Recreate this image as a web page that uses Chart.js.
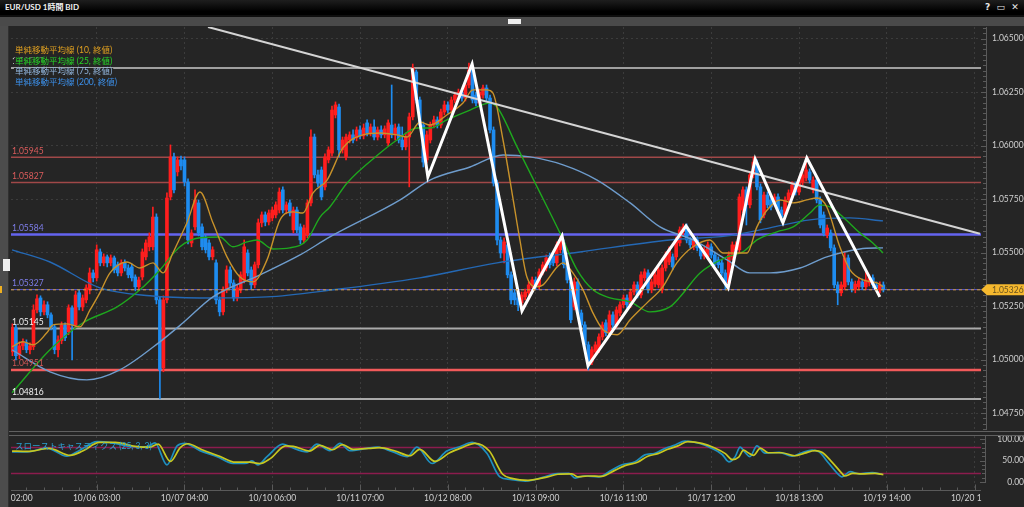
<!DOCTYPE html>
<html><head><meta charset="utf-8">
<script src="https://cdn.jsdelivr.net/npm/chart.js@4.4.1/dist/chart.umd.min.js"></script>
<style>
html,body{margin:0;padding:0;background:#252525;width:1024px;height:507px;overflow:hidden;}
.a{position:absolute;}
#tb{left:0;top:0;width:1024px;height:15px;background:linear-gradient(#1e1e1e,#000 75%);}
#tt{left:5px;top:1px;color:#f2f2f2;font:bold 8px Lato,'Noto Sans CJK JP',sans-serif;line-height:13px;white-space:nowrap;}
#ti{left:985px;top:1px;color:#e8e8e8;font:bold 9px 'DejaVu Sans',sans-serif;line-height:13px;white-space:nowrap;}
#b0{left:0;top:15px;width:1024px;height:2px;background:#0e0e0e;}
#b1{left:0;top:17px;width:1024px;height:9px;background:#4a4a4a;}
#tab{left:508px;top:19px;width:13px;height:5px;background:#eeeeee;}
#strip{left:0;top:26px;width:8px;height:481px;background:#4c4c4c;border-right:1px solid #303030;}
#btn{left:3px;top:259px;width:7px;height:12px;background:#efefef;}
#mk{left:0;top:286px;width:2px;height:7px;background:#f0b020;}
#s1{left:9px;top:431px;width:1015px;height:1px;background:#606060;}
#s2{left:9px;top:435px;width:1015px;height:1px;background:#606060;}
canvas{position:absolute;left:0;}
</style></head><body>
<canvas id="main" width="1024" height="408" style="top:26px"></canvas>
<canvas id="stoch" width="1024" height="73" style="top:434px"></canvas>
<div id="tb" class="a"></div>
<div id="tt" class="a">EUR/USD 1時間 BID</div>
<div id="ti" class="a">?&nbsp;&nbsp;▭&nbsp;&nbsp;✕</div>
<div id="b0" class="a"></div><div id="b1" class="a"></div><div id="tab" class="a"></div>
<div id="strip" class="a"></div><div id="btn" class="a"></div><div id="mk" class="a"></div>
<div id="s1" class="a"></div><div id="s2" class="a"></div>
<script>
// ---------------- data ----------------
const xLabels = ["10/05 02:00","10/06 03:00","10/07 04:00","10/10 06:00","10/11 07:00","10/12 08:00","10/13 09:00","10/16 11:00","10/17 12:00","10/18 13:00","10/19 14:00","10/20 15:00"];
const yTicks = [1.0475,1.05,1.0525,1.055,1.0575,1.06,1.0625,1.065];
const stochTicks = [0,50,100];

const openP = [1.05083,1.05036,1.05148,1.05022,1.05064,1.05078,1.05046,1.05060,1.05232,1.05288,1.05223,1.05256,1.05209,1.05153,1.05046,1.05088,1.05162,1.05130,1.05242,1.05162,
1.05312,1.05246,1.05279,1.05326,1.05405,1.05382,1.05503,1.05452,1.05480,1.05452,1.05475,1.05443,1.05405,1.05452,1.05428,1.05433,1.05386,1.05340,1.05386,1.05480,
1.05527,1.05527,1.05666,1.05279,1.04961,1.05279,1.05760,1.05947,1.05877,1.05933,1.05933,1.05830,1.05545,1.05620,1.05732,1.05620,1.05573,1.05545,1.05480,1.05452,
1.05279,1.05223,1.05326,1.05419,1.05358,1.05288,1.05326,1.05372,1.05498,1.05419,1.05349,1.05443,1.05639,1.05676,1.05643,1.05662,1.05676,1.05699,1.05793,1.05699,
1.05732,1.05606,1.05699,1.05620,1.05559,1.05583,1.05732,1.06040,1.05863,1.05886,1.05807,1.05933,1.05965,1.06143,1.06180,1.05980,1.05947,1.06026,1.06050,1.06036,
1.06073,1.06045,1.06106,1.06059,1.06087,1.06040,1.06073,1.06050,1.06012,1.06096,1.06050,1.06087,1.06026,1.05994,1.06040,1.06134,1.06344,1.06213,1.06096,1.05933,
1.06026,1.06096,1.06120,1.06096,1.06157,1.06190,1.06166,1.06213,1.06236,1.06250,1.06222,1.06283,1.06353,1.06236,1.06199,1.06236,1.06269,1.06222,1.06073,1.05825,
1.05559,1.05498,1.05536,1.05396,1.05312,1.05288,1.05265,1.05293,1.05312,1.05349,1.05372,1.05344,1.05410,1.05428,1.05475,1.05484,1.05452,1.05513,1.05545,1.05443,
1.05363,1.05246,1.05363,1.05218,1.05162,1.05069,1.04989,1.05036,1.05046,1.05106,1.05172,1.05125,1.05209,1.05162,1.05218,1.05256,1.05288,1.05256,1.05316,1.05349,
1.05302,1.05382,1.05405,1.05326,1.05353,1.05349,1.05326,1.05428,1.05456,1.05480,1.05480,1.05545,1.05597,1.05620,1.05559,1.05527,1.05559,1.05522,1.05484,1.05480,
1.05527,1.05489,1.05466,1.05452,1.05405,1.05358,1.05480,1.05513,1.05513,1.05699,1.05793,1.05723,1.05863,1.05919,1.05807,1.05676,1.05769,1.05746,1.05732,1.05760,
1.05699,1.05676,1.05746,1.05769,1.05816,1.05783,1.05830,1.05849,1.05877,1.05793,1.05839,1.05746,1.05676,1.05583,1.05592,1.05522,1.05349,1.05312,1.05340,1.05475,
1.05363,1.05326,1.05340,1.05363,1.05340,1.05358,1.05382,1.05349,1.05326,1.05349];
const highP = [1.05120,1.05167,1.05162,1.05083,1.05097,1.05092,1.05078,1.05256,1.05302,1.05298,1.05274,1.05270,1.05218,1.05162,1.05111,1.05176,1.05172,1.05256,1.05251,1.05321,
1.05326,1.05302,1.05349,1.05428,1.05419,1.05536,1.05517,1.05494,1.05489,1.05489,1.05484,1.05456,1.05466,1.05466,1.05443,1.05447,1.05396,1.05386,1.05517,1.05559,
1.05592,1.05713,1.05681,1.05293,1.05298,1.05779,1.06003,1.05965,1.05947,1.05951,1.05947,1.05844,1.05606,1.05793,1.05746,1.05634,1.05583,1.05559,1.05527,1.05466,
1.05293,1.05340,1.05438,1.05433,1.05372,1.05349,1.05410,1.05559,1.05513,1.05433,1.05456,1.05657,1.05690,1.05690,1.05699,1.05713,1.05737,1.05802,1.05807,1.05737,
1.05746,1.05713,1.05713,1.05634,1.05629,1.05746,1.06073,1.06054,1.05886,1.05900,1.05961,1.05994,1.06185,1.06204,1.06194,1.06040,1.06054,1.06064,1.06073,1.06087,
1.06092,1.06101,1.06120,1.06101,1.06120,1.06087,1.06092,1.06092,1.06120,1.06283,1.06101,1.06101,1.06087,1.06059,1.06152,1.06381,1.06353,1.06227,1.06110,1.06068,
1.06110,1.06138,1.06134,1.06171,1.06208,1.06204,1.06227,1.06250,1.06264,1.06264,1.06297,1.06386,1.06362,1.06250,1.06264,1.06283,1.06283,1.06236,1.06087,1.05839,
1.05573,1.05569,1.05550,1.05410,1.05326,1.05302,1.05316,1.05330,1.05363,1.05386,1.05386,1.05424,1.05456,1.05489,1.05498,1.05498,1.05550,1.05578,1.05559,1.05456,
1.05377,1.05382,1.05377,1.05232,1.05176,1.05083,1.05060,1.05083,1.05120,1.05176,1.05186,1.05228,1.05223,1.05246,1.05270,1.05302,1.05302,1.05330,1.05363,1.05363,
1.05410,1.05424,1.05419,1.05377,1.05410,1.05433,1.05443,1.05503,1.05527,1.05494,1.05573,1.05620,1.05634,1.05634,1.05573,1.05573,1.05573,1.05536,1.05527,1.05550,
1.05541,1.05503,1.05480,1.05466,1.05419,1.05503,1.05550,1.05550,1.05774,1.05807,1.05807,1.05877,1.05947,1.05933,1.05821,1.05783,1.05783,1.05760,1.05774,1.05774,
1.05713,1.05760,1.05793,1.05830,1.05830,1.05854,1.05877,1.05933,1.05891,1.05854,1.05854,1.05760,1.05690,1.05629,1.05606,1.05536,1.05363,1.05363,1.05503,1.05489,
1.05377,1.05367,1.05382,1.05377,1.05410,1.05396,1.05396,1.05363,1.05363,1.05363];
const lowP = [1.05060,1.05018,1.04999,1.05004,1.05046,1.05032,1.05027,1.05046,1.05218,1.05204,1.05209,1.05195,1.05139,1.05027,1.05013,1.05074,1.05088,1.05116,1.04999,1.05148,
1.05232,1.05228,1.05265,1.05307,1.05363,1.05367,1.05438,1.05438,1.05433,1.05438,1.05405,1.05391,1.05391,1.05414,1.05382,1.05367,1.05321,1.05326,1.05372,1.05466,
1.05508,1.05513,1.05260,1.04816,1.04943,1.05265,1.05746,1.05779,1.05858,1.05886,1.05811,1.05541,1.05527,1.05606,1.05578,1.05513,1.05498,1.05466,1.05466,1.05260,
1.05204,1.05209,1.05312,1.05340,1.05274,1.05274,1.05312,1.05358,1.05391,1.05330,1.05335,1.05428,1.05620,1.05625,1.05629,1.05648,1.05662,1.05685,1.05685,1.05681,
1.05671,1.05592,1.05592,1.05541,1.05545,1.05569,1.05718,1.05849,1.05807,1.05746,1.05793,1.05919,1.05951,1.06129,1.05947,1.05965,1.05933,1.06012,1.06012,1.06022,
1.06031,1.06031,1.06045,1.06045,1.06026,1.06026,1.06036,1.06036,1.05998,1.06036,1.06026,1.06012,1.05980,1.05980,1.05807,1.06120,1.06199,1.06082,1.05900,1.05919,
1.06012,1.06082,1.06082,1.06082,1.06143,1.06152,1.06152,1.06199,1.06222,1.06208,1.06208,1.06269,1.06199,1.06185,1.06185,1.06222,1.06208,1.06059,1.05811,1.05536,
1.05475,1.05452,1.05382,1.05260,1.05256,1.05228,1.05246,1.05279,1.05298,1.05335,1.05330,1.05330,1.05396,1.05414,1.05428,1.05438,1.05438,1.05498,1.05428,1.05358,
1.05172,1.05232,1.05204,1.05148,1.05055,1.04951,1.04976,1.05022,1.05032,1.05092,1.05111,1.05111,1.05148,1.05148,1.05204,1.05242,1.05242,1.05242,1.05302,1.05288,
1.05288,1.05367,1.05312,1.05312,1.05340,1.05335,1.05312,1.05414,1.05443,1.05419,1.05466,1.05531,1.05583,1.05545,1.05522,1.05513,1.05508,1.05470,1.05470,1.05466,
1.05475,1.05438,1.05428,1.05391,1.05326,1.05344,1.05466,1.05498,1.05498,1.05685,1.05629,1.05709,1.05849,1.05793,1.05639,1.05662,1.05709,1.05699,1.05718,1.05685,
1.05643,1.05662,1.05732,1.05755,1.05769,1.05769,1.05816,1.05835,1.05825,1.05779,1.05732,1.05615,1.05578,1.05569,1.05508,1.05335,1.05256,1.05298,1.05326,1.05349,
1.05316,1.05312,1.05326,1.05326,1.05326,1.05344,1.05335,1.05321,1.05312,1.05316];
const closeP = [1.05102,1.05148,1.05018,1.05064,1.05083,1.05046,1.05064,1.05232,1.05284,1.05223,1.05256,1.05209,1.05153,1.05046,1.05092,1.05162,1.05102,1.05242,1.05162,1.05302,
1.05246,1.05288,1.05335,1.05405,1.05382,1.05513,1.05452,1.05480,1.05452,1.05475,1.05419,1.05405,1.05452,1.05428,1.05396,1.05382,1.05340,1.05372,1.05503,1.05545,
1.05573,1.05666,1.05279,1.04952,1.05279,1.05755,1.05947,1.05793,1.05933,1.05905,1.05830,1.05559,1.05592,1.05746,1.05592,1.05527,1.05513,1.05480,1.05513,1.05279,
1.05223,1.05326,1.05419,1.05358,1.05288,1.05335,1.05396,1.05527,1.05405,1.05349,1.05443,1.05639,1.05676,1.05643,1.05685,1.05699,1.05723,1.05783,1.05699,1.05723,
1.05685,1.05699,1.05606,1.05559,1.05615,1.05732,1.06040,1.05863,1.05825,1.05760,1.05947,1.05980,1.06166,1.06190,1.05980,1.06026,1.06040,1.06050,1.06026,1.06073,
1.06045,1.06082,1.06059,1.06087,1.06040,1.06073,1.06050,1.06078,1.06106,1.06050,1.06082,1.06026,1.05994,1.06040,1.06134,1.06362,1.06213,1.06096,1.05923,1.06050,
1.06096,1.06120,1.06096,1.06157,1.06190,1.06166,1.06213,1.06236,1.06250,1.06222,1.06283,1.06353,1.06213,1.06199,1.06250,1.06269,1.06222,1.06073,1.05825,1.05559,
1.05498,1.05550,1.05396,1.05279,1.05279,1.05256,1.05302,1.05316,1.05349,1.05372,1.05344,1.05410,1.05443,1.05475,1.05443,1.05452,1.05536,1.05559,1.05443,1.05372,
1.05186,1.05363,1.05218,1.05162,1.05069,1.04989,1.05046,1.05069,1.05106,1.05162,1.05125,1.05209,1.05162,1.05232,1.05256,1.05288,1.05256,1.05316,1.05349,1.05302,
1.05396,1.05410,1.05326,1.05363,1.05396,1.05419,1.05428,1.05489,1.05513,1.05433,1.05559,1.05606,1.05620,1.05559,1.05536,1.05559,1.05522,1.05484,1.05513,1.05536,
1.05489,1.05452,1.05443,1.05405,1.05358,1.05489,1.05536,1.05536,1.05760,1.05793,1.05723,1.05863,1.05923,1.05807,1.05653,1.05769,1.05723,1.05713,1.05760,1.05699,
1.05666,1.05746,1.05779,1.05816,1.05783,1.05839,1.05863,1.05886,1.05839,1.05839,1.05746,1.05629,1.05592,1.05615,1.05522,1.05349,1.05312,1.05349,1.05475,1.05363,
1.05330,1.05353,1.05367,1.05340,1.05372,1.05382,1.05349,1.05335,1.05349,1.05326];

const ma10 = [[0.9,1.05060],[4.0,1.05083],[6.9,1.05069],[10.8,1.05125],[12.6,1.05162],[16.5,1.05167],[20.2,1.05153],[23.1,1.05232],[25.9,1.05312],[28.8,1.05405],[33.6,1.05456],[37.3,1.05428],[41.0,1.05452],[43.9,1.05405],[46.7,1.05498],[50.7,1.05639],[54.4,1.05783],[58.1,1.05639],[62.1,1.05480],[65.8,1.05386],[69.5,1.05363],[73.5,1.05466],[77.2,1.05653],[80.9,1.05690],[83.7,1.05685],[86.6,1.05779],[90.6,1.05839],[95.1,1.05989],[100.8,1.06050],[105.7,1.06059],[110.5,1.06050],[113.4,1.06040],[117.1,1.06110],[119.9,1.06096],[124.7,1.06143],[129.3,1.06199],[132.1,1.06260],[136.1,1.06260],[137.8,1.06246],[140.7,1.06026],[143.6,1.05746],[145.5,1.05559],[147.5,1.05386],[150.4,1.05340],[152.1,1.05349],[156.1,1.05433],[157.8,1.05452],[160.6,1.05405],[163.5,1.05326],[166.3,1.05218],[169.2,1.05139],[173.2,1.05116],[176.9,1.05186],[181.7,1.05265],[186.2,1.05340],[190.2,1.05452],[194.8,1.05527],[199.6,1.05559],[203.3,1.05498],[206.2,1.05498],[210.2,1.05498],[213.0,1.05620],[215.9,1.05699],[219.6,1.05746],[223.3,1.05732],[227.2,1.05746],[230.1,1.05755],[232.9,1.05713],[236.6,1.05527],[239.5,1.05419],[243.2,1.05372],[247.2,1.05358],[248.9,1.05340]];
const ma25 = [[0.9,1.04845],[11.7,1.05046],[21.1,1.05172],[30.8,1.05246],[37.3,1.05326],[43.0,1.05419],[48.7,1.05527],[54.4,1.05569],[60.1,1.05573],[63.8,1.05527],[67.8,1.05550],[70.6,1.05559],[75.2,1.05517],[80.0,1.05522],[84.9,1.05559],[88.6,1.05666],[91.4,1.05713],[96.3,1.05825],[105.7,1.05965],[110.5,1.06026],[116.2,1.06082],[119.9,1.06082],[124.7,1.06120],[131.3,1.06166],[137.0,1.06199],[139.0,1.06180],[144.7,1.05994],[150.4,1.05807],[156.9,1.05592],[161.8,1.05419],[166.3,1.05326],[171.2,1.05288],[176.9,1.05270],[182.5,1.05223],[188.2,1.05246],[191.1,1.05293],[196.8,1.05405],[204.5,1.05480],[209.0,1.05503],[213.0,1.05559],[218.7,1.05597],[223.3,1.05620],[228.1,1.05685],[230.9,1.05723],[233.8,1.05713],[237.5,1.05666],[242.3,1.05592],[246.0,1.05545],[248.9,1.05498]];
const ma75 = [[0.9,1.05046],[11.7,1.04943],[22.2,1.04905],[31.6,1.04952],[43.0,1.05083],[49.6,1.05172],[58.1,1.05293],[71.5,1.05396],[82.9,1.05489],[91.4,1.05573],[111.4,1.05746],[119.9,1.05839],[131.3,1.05900],[140.7,1.05956],[148.4,1.05947],[157.8,1.05910],[167.5,1.05839],[176.9,1.05732],[185.4,1.05620],[194.8,1.05559],[204.5,1.05466],[211.0,1.05405],[216.7,1.05405],[225.3,1.05428],[232.9,1.05480],[242.3,1.05517],[248.9,1.05522]];
const ma200 = [[0.9,1.05513],[11.7,1.05456],[25.9,1.05335],[40.2,1.05298],[54.4,1.05288],[73.5,1.05293],[92.3,1.05326],[117.0,1.05382],[139.0,1.05452],[162.6,1.05503],[188.2,1.05559],[204.5,1.05578],[213.9,1.05606],[228.1,1.05653],[239.5,1.05662],[248.9,1.05648]];

const levels = [1.06362,1.05945,1.05827,1.05584,1.05327,1.05145,1.04951,1.04816];
const currentPrice = 1.05326;
const trendLine = [[56.7,1.06554],[276.5,1.05588]];
const zigzag = [[114.8,1.06362],[119.3,1.05853],[131.9,1.06381],[146.1,1.05228],[157.5,1.05578],[164.9,1.04971],[192.8,1.05625],[204.8,1.05335],[212.5,1.05937],[220.4,1.05639],[227.2,1.05942],[248.0,1.05293]];

const stochK = [[0.9,70],[5.2,70],[10.8,79],[16.5,60],[20.2,74],[25.1,94],[29.6,91],[35.3,82],[39.3,82],[41.6,91],[45.0,40],[47.9,84],[50.1,90],[54.4,73],[59.3,59],[63.8,43],[67.8,44],[69.2,49],[70.9,40],[73.5,59],[78.0,88],[80.0,82],[84.9,70],[87.7,88],[91.4,73],[94.3,90],[97.1,73],[101.9,78],[104.8,81],[109.4,70],[113.4,59],[116.2,81],[120.5,43],[124.7,72],[128.4,82],[131.9,92],[136.1,67],[139.8,12],[142.7,6],[147.0,2],[152.6,12],[155.5,19],[159.5,20],[161.2,9],[164.0,14],[168.0,12],[171.7,28],[174.6,40],[178.3,47],[181.1,63],[184.0,67],[186.8,78],[189.7,86],[192.5,95],[196.5,90],[200.2,78],[203.1,64],[205.0,47],[206.8,59],[208.2,81],[209.6,69],[211.0,59],[213.0,84],[215.3,67],[219.3,69],[223.0,60],[225.8,68],[228.7,74],[230.7,70],[233.5,43],[236.4,16],[237.2,12],[239.5,24],[242.1,19],[245.8,22],[248.6,18]];
const stochD = [[0.9,72],[5.2,71],[11.5,78],[17.5,62],[21,72],[25.8,92],[30.3,92],[36,83],[40,81],[42.5,88],[46,48],[48.8,80],[51,89],[55,75],[60,60],[64.5,46],[68.5,46],[71.5,43],[74.5,55],[78.8,84],[81,83],[85.6,72],[88.5,85],[92.2,75],[95,87],[98,76],[102.5,78],[105.5,80],[110,72],[114.2,61],[117,76],[121.3,48],[125.5,68],[129,80],[132.7,90],[136.8,72],[140.6,18],[143.5,8],[147.8,4],[153.4,12],[156.3,18],[160.3,19],[162,12],[164.8,14],[168.8,13],[172.5,27],[175.4,38],[179,46],[181.9,60],[184.8,66],[187.6,76],[190.5,84],[193.3,94],[197.3,90],[201,79],[204,66],[206,52],[207.8,58],[209.2,74],[210.5,68],[212,62],[214,79],[216.2,68],[220,68],[223.8,61],[226.6,67],[229.5,73],[231.5,69],[234.3,47],[237.2,20],[238,14],[240.3,20],[243,19],[246.6,20],[249,17]];
const stochLevels = [80,20];

// ---------------- presentation ----------------
const FONT = "Lato, 'Noto Sans CJK JP', sans-serif";
Chart.defaults.font.family = FONT;
const XMIN = 0.6, XMAX = 276.8, BARS_PER_LABEL = 25, MINOR_X = 5;
const Y_MIN = 1.04671, Y_MAX = 1.06554;
const S_MIN = -20.93, S_MAX = 106.98;
const majorX = xLabels.map((_, k) => k * BARS_PER_LABEL);
const RED = '#ff1e1e', BLUE = '#1e8cf0';
const idx = openP.map((_, i) => i);
const barColors = idx.map(i => closeP[i] >= openP[i] ? RED : BLUE);
const pts = arr => arr.map(p => ({x: p[0], y: p[1]}));
const levelStyle = [
  {c:'#a0a0a0', w:2, t:'#e0e0e0'}, {c:'#a04848', w:1.5, t:'#dc5c5c'}, {c:'#a04848', w:1.5, t:'#dc5c5c'},
  {c:'#6464f0', w:2.5, t:'#7e7eea'}, {c:'#5a5ad2', w:1, t:'#7e7eea'}, {c:'#aaaaaa', w:2, t:'#eeeeee'},
  {c:'#f25a5a', w:2.5, t:'#d05656'}, {c:'#aaaaaa', w:2, t:'#eeeeee'}];
const legendItems = [
  {t:'単純移動平均線 (10, 終値)', c:'#e0a020'}, {t:'単純移動平均線 (25, 終値)', c:'#26d426'},
  {t:'単純移動平均線 (75, 終値)', c:'#92b6de'}, {t:'単純移動平均線 (200, 終値)', c:'#3c90ea'}];
const MAIN_TOP = 26, STOCH_TOP = 434;
const TXT = '8.5px ' + FONT;

const mainDeco = {
  id: 'mainDeco',
  beforeDatasetsDraw(chart) {
    const {ctx, chartArea: a, scales: {y}} = chart;
    ctx.save();
    levels.forEach((v, k) => {
      const st = levelStyle[k];
      const py = y.getPixelForValue(v);
      ctx.strokeStyle = st.c; ctx.lineWidth = st.w;
      ctx.beginPath(); ctx.moveTo(a.left, py); ctx.lineTo(a.right, py); ctx.stroke();
    });
    ctx.restore();
  },
  afterDatasetsDraw(chart) {
    const {ctx, chartArea: a, scales: {y}} = chart;
    ctx.save();
    const py = y.getPixelForValue(currentPrice);
    ctx.strokeStyle = '#d8a030'; ctx.lineWidth = 1; ctx.setLineDash([3, 3]);
    ctx.beginPath(); ctx.moveTo(a.left, py); ctx.lineTo(a.right, py); ctx.stroke();
    ctx.restore();
  },
  afterDraw(chart) {
    const {ctx, chartArea: a, scales: {y}} = chart;
    ctx.save();
    ctx.strokeStyle = '#5a5a5a'; ctx.lineWidth = 1;
    ctx.beginPath(); ctx.moveTo(986.5, a.top); ctx.lineTo(986.5, a.bottom); ctx.stroke();
    const step = 0.00025;
    for (let n = Math.ceil(Y_MIN / step); n * step <= Y_MAX; n++) {
      const py = Math.round(y.getPixelForValue(n * step)) + 0.5;
      const major = n % 10 === 0;
      ctx.beginPath(); ctx.moveTo(major ? 981 : 983, py); ctx.lineTo(986.5, py); ctx.stroke();
    }
    ctx.font = TXT; ctx.textBaseline = 'middle'; ctx.textAlign = 'left';
    levels.forEach((v, k) => {
      ctx.fillStyle = levelStyle[k].t;
      ctx.fillText(v.toFixed(5), 12, y.getPixelForValue(v) - 6.5);
    });
    legendItems.forEach((it, k) => {
      const cy = 50.5 + k * 10.5 - MAIN_TOP;
      const w = ctx.measureText(it.t).width;
      ctx.fillStyle = '#252525'; ctx.fillRect(14, cy - 3.5, w + 2, 7.5);
      ctx.fillStyle = it.c; ctx.fillText(it.t, 15, cy);
    });
    const py = y.getPixelForValue(currentPrice);
    ctx.fillStyle = '#f5b82e';
    ctx.beginPath(); ctx.moveTo(981, py); ctx.lineTo(987, py - 5.5); ctx.lineTo(1024, py - 5.5);
    ctx.lineTo(1024, py + 5.5); ctx.lineTo(987, py + 5.5); ctx.closePath(); ctx.fill();
    ctx.fillStyle = '#6a5420'; ctx.fillText(currentPrice.toFixed(5), 992, py + 0.5);
    ctx.restore();
  }
};

const stochDeco = {
  id: 'stochDeco',
  beforeDatasetsDraw(chart) {
    const {ctx, chartArea: a, scales: {y}} = chart;
    ctx.save();
    ctx.strokeStyle = '#8c1c4e'; ctx.lineWidth = 1.5;
    stochLevels.forEach(v => {
      const py = y.getPixelForValue(v);
      ctx.beginPath(); ctx.moveTo(a.left, py); ctx.lineTo(a.right, py); ctx.stroke();
    });
    ctx.restore();
  },
  afterDraw(chart) {
    const {ctx, chartArea: a, scales: {x, y}} = chart;
    ctx.save();
    ctx.strokeStyle = '#5a5a5a'; ctx.lineWidth = 1;
    const by = a.bottom - 0.5;
    ctx.beginPath(); ctx.moveTo(a.left, by); ctx.lineTo(a.right, by); ctx.stroke();
    for (let v = 0; v <= XMAX; v += MINOR_X) {
      if (v < XMIN) continue;
      const px = Math.round(x.getPixelForValue(v)) + 0.5;
      const major = v % BARS_PER_LABEL === 0;
      ctx.beginPath(); ctx.moveTo(px, by - (major ? 6 : 3)); ctx.lineTo(px, by); ctx.stroke();
    }
    const zy = y.getPixelForValue(0);
    ctx.beginPath(); ctx.moveTo(985.5, a.top); ctx.lineTo(985.5, zy + 1); ctx.stroke();
    for (let v = 0; v <= 100; v += 10) {
      const py = Math.round(y.getPixelForValue(v)) + 0.5;
      ctx.beginPath(); ctx.moveTo(v % 50 === 0 ? 980 : 982, py); ctx.lineTo(985.5, py); ctx.stroke();
    }
    ctx.save();
    ctx.beginPath(); ctx.rect(a.left, a.bottom, 982 - a.left, chart.height - a.bottom); ctx.clip();
    ctx.font = TXT; ctx.fillStyle = '#d2d2d2'; ctx.textAlign = 'center'; ctx.textBaseline = 'middle';
    xLabels.forEach((t, k) => ctx.fillText(t, x.getPixelForValue(majorX[k]), 498 - STOCH_TOP));
    ctx.restore();
    ctx.font = TXT; ctx.textAlign = 'left'; ctx.textBaseline = 'middle'; ctx.fillStyle = '#2aa2d2';
    ctx.fillText('スローストキャスティクス (25, 3, 3)', 15, 446.5 - STOCH_TOP);
    ctx.restore();
  }
};

const zeroPad = s => { s.paddingTop = 0; s.paddingBottom = 0; s.paddingLeft = 0; s.paddingRight = 0; };
const xScale = (extra) => Object.assign({
  type: 'linear', min: XMIN, max: XMAX, offset: false,
  afterBuildTicks: s => { s.ticks = majorX.map(v => ({value: v})); },
  ticks: {display: false},
  grid: {color: '#3c3c3c', lineWidth: 1, drawTicks: false, offset: false},
  border: {display: false, dash: [2, 3]}
}, extra);

new Chart(document.getElementById('main'), {
  type: 'bar',
  data: {datasets: [
    {type: 'line', data: pts(zigzag), borderColor: '#ffffff', borderWidth: 3, pointRadius: 0, borderJoinStyle: 'miter', order: 0},
    {type: 'line', data: pts(trendLine), borderColor: '#d4d4d4', borderWidth: 2, pointRadius: 0, order: 1},
    {type: 'line', data: pts(ma10), borderColor: '#c8922a', borderWidth: 1.4, pointRadius: 0, cubicInterpolationMode: 'monotone', order: 2},
    {type: 'line', data: pts(ma25), borderColor: '#1ea81e', borderWidth: 1.4, pointRadius: 0, cubicInterpolationMode: 'monotone', order: 3},
    {type: 'line', data: pts(ma75), borderColor: '#6e9ccc', borderWidth: 1.4, pointRadius: 0, cubicInterpolationMode: 'monotone', order: 4},
    {type: 'line', data: pts(ma200), borderColor: '#2468b4', borderWidth: 1.4, pointRadius: 0, cubicInterpolationMode: 'monotone', order: 5},
    {type: 'bar', data: idx.map(i => ({x: i, y: [openP[i], closeP[i]]})), backgroundColor: barColors, barThickness: 3, grouped: false, minBarLength: 1, borderWidth: 0, order: 6},
    {type: 'bar', data: idx.map(i => ({x: i, y: [lowP[i], highP[i]]})), backgroundColor: barColors, barThickness: 1, grouped: false, borderWidth: 0, order: 7}
  ]},
  options: {
    responsive: false, animation: false, events: [],
    layout: {padding: {left: 11, top: 1, right: 0, bottom: 4}, autoPadding: false},
    plugins: {legend: {display: false}, tooltip: {enabled: false}},
    scales: {
      x: xScale({afterFit: s => { s.height = 0; zeroPad(s); }}),
      y: {position: 'right', min: Y_MIN, max: Y_MAX,
        afterBuildTicks: s => { s.ticks = yTicks.map(v => ({value: v})); },
        ticks: {callback: v => v.toFixed(5), color: '#cfcfcf', font: {size: 8.5}, padding: 11},
        grid: {color: '#3c3c3c', drawTicks: false},
        border: {display: false, dash: [2, 3]},
        afterFit: s => { s.width = 43; zeroPad(s); }}
    }
  },
  plugins: [mainDeco]
});

new Chart(document.getElementById('stoch'), {
  type: 'line',
  data: {datasets: [
    {data: pts(stochD), borderColor: '#c8c820', borderWidth: 1.7, pointRadius: 0, cubicInterpolationMode: 'monotone', order: 0},
    {data: pts(stochK), borderColor: '#1e90c0', borderWidth: 1.7, pointRadius: 0, cubicInterpolationMode: 'monotone', order: 1}
  ]},
  options: {
    responsive: false, animation: false, events: [],
    layout: {padding: {left: 11, top: 2, right: 0, bottom: 0}, autoPadding: false},
    plugins: {legend: {display: false}, tooltip: {enabled: false}},
    scales: {
      x: xScale({afterFit: s => { s.height = 16; zeroPad(s); }}),
      y: {position: 'right', min: S_MIN, max: S_MAX,
        afterBuildTicks: s => { s.ticks = stochTicks.map(v => ({value: v})); },
        ticks: {callback: v => v.toFixed(2), color: '#cfcfcf', font: {size: 8.5}, padding: 14, crossAlign: 'far'},
        grid: {display: false, drawTicks: false},
        border: {display: false},
        afterFit: s => { s.width = 43; zeroPad(s); }}
    }
  },
  plugins: [stochDeco]
});
</script>
</body></html>
